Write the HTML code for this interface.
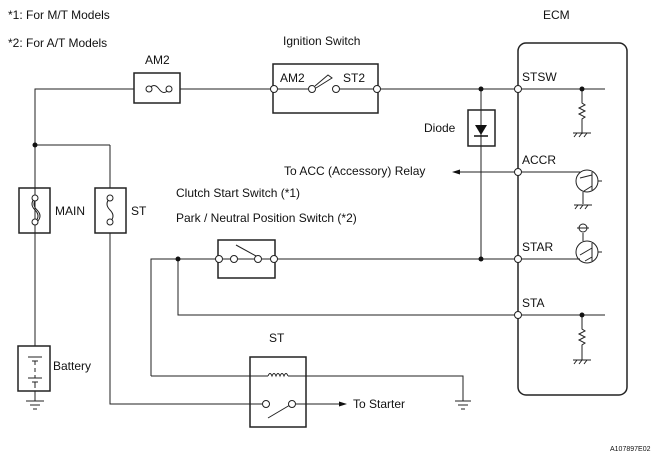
<!DOCTYPE html>
<html><head><style>body{margin:0;background:#fff}svg{display:block}text{font-family:"Liberation Sans",Arial,sans-serif;font-size:12px;fill:#111}</style></head><body>
<svg width="672" height="459" viewBox="0 0 672 459" xmlns="http://www.w3.org/2000/svg">
<g stroke="#222" stroke-width="1" fill="none">
<!-- main wires -->
<polyline points="35,233 35,89 134,89"/>
<line x1="180" y1="89" x2="273" y2="89"/>
<line x1="378" y1="89" x2="518" y2="89"/>
<line x1="35" y1="145" x2="110" y2="145"/>
<line x1="110" y1="145" x2="110" y2="188"/>
<line x1="35" y1="145" x2="35" y2="188"/>
<line x1="35" y1="233" x2="35" y2="346"/>
<polyline points="110,233 110,404 250,404"/>
<!-- fuse AM2 -->
<rect x="134" y="73" width="46" height="30" stroke-width="1.5"/>
<path d="M149,89 q5,-7 10,0 q5,7 10,0"/>
<!-- ignition -->
<rect x="273" y="64" width="105" height="49" stroke-width="1.5"/>
<line x1="278" y1="89" x2="308" y2="89"/>
<line x1="340" y1="89" x2="374" y2="89"/>
<path d="M315,86 L328,75 L332,78 L316,88"/>
<!-- MAIN / ST fuses -->
<rect x="19" y="188" width="31" height="45" stroke-width="1.5"/>
<path d="M35,198 q-6,6 0,12 q6,6 0,12 M37,198 q-6,6 0,12 q6,6 0,12"/>
<rect x="95" y="188" width="31" height="45" stroke-width="1.5"/>
<path d="M110,198 q-6,6 0,12 q6,6 0,12"/>
<!-- battery -->
<rect x="18" y="346" width="32" height="45" stroke-width="1.5"/>
<path d="M28,357 h14 M32,361 h6 M35,361 v4 M35,368 v4 M35,375 v3 M28,378 h14 M32,382 h6 M35,382 v6"/>
<path d="M35,391 v10 M26,401 h18 M30,405 h10 M33,409 h4"/>
<!-- clutch switch -->
<rect x="218" y="240" width="57" height="38" stroke-width="1.5"/>
<polyline points="151,376 151,259 218,259"/>
<line x1="223" y1="259" x2="230" y2="259"/>
<line x1="238" y1="259" x2="254" y2="259"/>
<line x1="236" y1="245" x2="256" y2="256"/>
<line x1="262" y1="259" x2="270" y2="259"/>
<line x1="275" y1="259" x2="518" y2="259"/>
<polyline points="178,259 178,315 518,315"/>
<!-- relay ST -->
<rect x="250" y="357" width="56" height="70" stroke-width="1.5"/>
<line x1="151" y1="376" x2="268" y2="376"/>
<path d="M268,376 q2,-5 4,0 q2,-5 4,0 q2,-5 4,0 q2,-5 4,0 q2,-5 4,0"/>
<polyline points="288,376 463,376 463,401"/>
<path d="M455,401 h16 M458,405 h10 M461,409 h4"/>
<line x1="250" y1="404" x2="262" y2="404"/>
<line x1="296" y1="404" x2="340" y2="404"/>
<line x1="268" y1="418" x2="290" y2="405"/>
<!-- diode -->
<line x1="481" y1="89" x2="481" y2="259"/>
<rect x="468" y="110" width="27" height="36" fill="#fff" stroke-width="1.5"/>
<line x1="481" y1="110" x2="481" y2="146"/>
<!-- ACC -->
<line x1="458" y1="172" x2="518" y2="172"/>
<!-- ECM -->
<rect x="518" y="43" width="109" height="352" rx="8" stroke-width="1.5"/>
<line x1="518" y1="89" x2="605" y2="89"/>
<line x1="518" y1="172" x2="580" y2="172"/>
<line x1="518" y1="259" x2="580" y2="259"/>
<line x1="518" y1="315" x2="605" y2="315"/>
<path d="M582,89 v14 l3,2 l-6,3 l6,3 l-6,3 l6,3 l-3,2 v15 M573,133 h18 M574,137 l3,-4 M579,137 l3,-4 M584,137 l3,-4"/>
<path d="M582,315 v14 l3,2 l-6,3 l6,3 l-6,3 l6,3 l-3,2 v15 M573,360 h18 M574,364 l3,-4 M579,364 l3,-4 M584,364 l3,-4"/>
<circle cx="587" cy="181" r="11"/>
<path d="M592,172 v18 M580,178 L592,175 M592,186 l-8,5 M598,181 h4 M583,192 v12 M574,205 h18 M575,209 l3,-4 M580,209 l3,-4 M585,209 l3,-4"/>
<circle cx="587" cy="252" r="11"/>
<path d="M592,243 v18 M580,255 L592,248 M592,257 l-7,4 M598,252 h4 M583,241 v-8 M577,228 h12"/>
<circle cx="583" cy="228" r="4"/>
</g>
<polygon points="475,125 487,125 481,135" fill="#111"/>
<line x1="474" y1="136" x2="488" y2="136" stroke="#111" stroke-width="1.5"/>
<polygon points="452,172 460,169.5 460,174.5" fill="#111"/>
<polygon points="347,404 339,401.5 339,406.5" fill="#111"/>
<g fill="#fff" stroke="#222" stroke-width="1">
<circle cx="149" cy="89" r="3"/><circle cx="169" cy="89" r="3"/>
<circle cx="274" cy="89" r="3.5"/><circle cx="312" cy="89" r="3.5"/><circle cx="336" cy="89" r="3.5"/><circle cx="377" cy="89" r="3.5"/>
<circle cx="35" cy="198" r="3"/><circle cx="35" cy="222" r="3"/><circle cx="110" cy="198" r="3"/><circle cx="110" cy="222" r="3"/>
<circle cx="219" cy="259" r="3.5"/><circle cx="234" cy="259" r="3.5"/><circle cx="258" cy="259" r="3.5"/><circle cx="274" cy="259" r="3.5"/>
<circle cx="266" cy="404" r="3.5"/><circle cx="292" cy="404" r="3.5"/>
<circle cx="518" cy="89" r="3.5"/><circle cx="518" cy="172" r="3.5"/><circle cx="518" cy="259" r="3.5"/><circle cx="518" cy="315" r="3.5"/>
</g>
<g fill="#111"><circle cx="35" cy="145" r="2.5"/><circle cx="178" cy="259" r="2.5"/><circle cx="481" cy="89" r="2.5"/><circle cx="481" cy="259" r="2.5"/><circle cx="582" cy="89" r="2.5"/><circle cx="582" cy="315" r="2.5"/></g>
<text x="8" y="19">*1: For M/T Models</text>
<text x="8" y="47">*2: For A/T Models</text>
<text x="283" y="45">Ignition Switch</text>
<text x="543" y="19">ECM</text>
<text x="145" y="64">AM2</text>
<text x="280" y="82">AM2</text>
<text x="343" y="82">ST2</text>
<text x="522" y="81">STSW</text>
<text x="424" y="132">Diode</text>
<text x="284" y="175">To ACC (Accessory)  Relay</text>
<text x="522" y="164">ACCR</text>
<text x="176" y="197">Clutch Start Switch (*1)</text>
<text x="176" y="222">Park / Neutral Position Switch (*2)</text>
<text x="522" y="251">STAR</text>
<text x="522" y="307">STA</text>
<text x="55" y="215">MAIN</text>
<text x="131" y="215">ST</text>
<text x="53" y="370">Battery</text>
<text x="269" y="342">ST</text>
<text x="353" y="408">To Starter</text>
<text x="610" y="451" style="font-size:7px">A107897E02</text>
</svg>
</body></html>
